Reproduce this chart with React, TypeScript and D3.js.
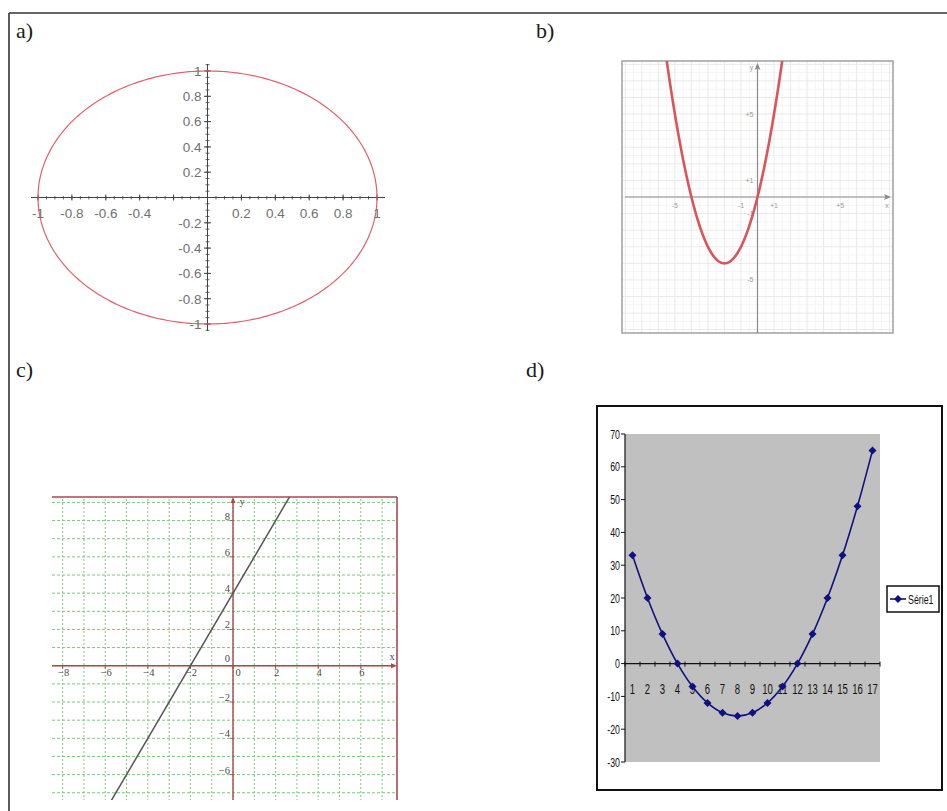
import React from "react";
import * as d3 from "d3";

// ---------- Panel a: unit ellipse ----------
const ellipseRadii = [1, 1];
const aXTickValues = [-1, -0.8, -0.6, -0.4, 0.2, 0.4, 0.6, 0.8, 1];
const aXTickText = ["-1", "-0.8", "-0.6", "-0.4", "0.2", "0.4", "0.6", "0.8", "1"];
const aYTickValues = [1, 0.8, 0.6, 0.4, 0.2, -0.2, -0.4, -0.6, -0.8, -1];
const aYTickText = ["1", "0.8", "0.6", "0.4", "0.2", "-0.2", "-0.4", "-0.6", "-0.8", "-1"];

// ---------- Panel b: parabola y = x^2 + 4x ----------
const parabolaCoeffs = [1, 4, 0];
const bXTickValues = [-5, -1, 1, 5];
const bXTickText = ["-5", "-1", "+1", "+5"];
const bYTickValues = [5, 1, -1, -5];
const bYTickText = ["+5", "+1", "-1", "-5"];

// ---------- Panel c: straight line y = 2x + 4 ----------
const lineCoeffs = [2, 4];
const cXTickValues = [-8, -6, -4, -2, 0, 2, 4, 6];
const cYTickValues = [-6, -4, -2, 0, 2, 4, 6, 8];

// ---------- Panel d: spreadsheet series ----------
const dCategories = ["1", "2", "3", "4", "5", "6", "7", "8", "9", "10", "11", "12", "13", "14", "15", "16", "17"];
const dValues = [33, 20, 9, 0, -7, -12, -15, -16, -15, -12, -7, 0, 9, 20, 33, 48, 65];
const dYTicks = [70, 60, 50, 40, 30, 20, 10, 0, -10, -20, -30];
const dSeriesName = "Série1";

const serif = "'Liberation Serif', 'DejaVu Serif', serif";
const sans = "'Liberation Sans', Arial, sans-serif";

// Condensed text: horizontally squeezed sans label
function NarrowText(props: { x: number; y: number; anchor: string; size: number; children: React.ReactNode }) {
  return (
    <g transform={`translate(${props.x},${props.y}) scale(0.68,1)`}>
      <text x={0} y={0} dy="0.35em" textAnchor={props.anchor as any} fontFamily={sans} fontSize={props.size} fill="#111">
        {props.children}
      </text>
    </g>
  );
}

function PanelA() {
  const x = d3.scaleLinear().domain([-1, 1]).range([38, 377]);
  const y = d3.scaleLinear().domain([-1, 1]).range([324, 71]);
  const [rx, ry] = ellipseRadii;
  const pts: [number, number][] = d3
    .range(0, 2 * Math.PI + 0.001, Math.PI / 180)
    .map((t) => [rx * Math.cos(t), ry * Math.sin(t)]);
  const path = d3
    .line<[number, number]>()
    .x((d) => x(d[0]))
    .y((d) => y(d[1]))(pts);
  const minor = d3.range(-1.1, 1.101, 0.05).map((v) => Math.round(v * 100) / 100);
  const major = d3.range(-1, 1.001, 0.2).map((v) => Math.round(v * 10) / 10);
  const x0 = x(0);
  const y0 = y(0);
  const axisColor = "#444";
  return (
    <g>
      <line x1={31} x2={385} y1={y0} y2={y0} stroke={axisColor} strokeWidth={1} />
      <line x1={x0} x2={x0} y1={64} y2={331} stroke={axisColor} strokeWidth={1} />
      {minor
        .filter((v) => x(v) >= 31 && x(v) <= 385)
        .map((v, i) => (
          <line key={"xm" + i} x1={x(v)} x2={x(v)} y1={y0 - 1.5} y2={y0 + 2} stroke={axisColor} strokeWidth={0.8} />
        ))}
      {minor
        .filter((v) => y(v) >= 64 && y(v) <= 331)
        .map((v, i) => (
          <line key={"ym" + i} x1={x0 - 2} x2={x0 + 2} y1={y(v)} y2={y(v)} stroke={axisColor} strokeWidth={0.8} />
        ))}
      {major.map((v, i) => (
        <g key={"mj" + i}>
          <line x1={x(v)} x2={x(v)} y1={y0 - 3} y2={y0 + 3} stroke={axisColor} strokeWidth={1} />
          <line x1={x0 - 3.5} x2={x0 + 3.5} y1={y(v)} y2={y(v)} stroke={axisColor} strokeWidth={1} />
        </g>
      ))}
      <path d={path || ""} fill="none" stroke="#e0606a" strokeWidth={1.2} />
      {aXTickValues.map((v, i) => (
        <text key={"xl" + i} x={x(v)} y={218} textAnchor="middle" fontFamily={sans} fontSize={13.5} fill="#707070">
          {aXTickText[i]}
        </text>
      ))}
      {aYTickValues.map((v, i) => (
        <text key={"yl" + i} x={x0 - 6} y={y(v)} dy="0.36em" textAnchor="end" fontFamily={sans} fontSize={13.5} fill="#707070">
          {aYTickText[i]}
        </text>
      ))}
    </g>
  );
}

function PanelB() {
  const left = 622, right = 893, top = 61, bottom = 333;
  const x = d3.scaleLinear().domain([-8.2, 8.2]).range([left, right]);
  const y = d3.scaleLinear().domain([-8.2, 8.2]).range([bottom, top]);
  const [a, b, c] = parabolaCoeffs;
  const pts: [number, number][] = d3.range(-8.2, 8.201, 0.02).map((t) => [t, a * t * t + b * t + c]);
  const path = d3
    .line<[number, number]>()
    .x((d) => x(d[0]))
    .y((d) => y(d[1]))(pts);
  const halfLines = d3.range(-7.5, 8.01, 1);
  const unitLines = d3.range(-8, 8.01, 1);
  const x0 = x(0), y0 = y(0);
  return (
    <g>
      <defs>
        <clipPath id="clipB">
          <rect x={left} y={top} width={right - left} height={bottom - top} />
        </clipPath>
      </defs>
      <rect x={left} y={top} width={right - left} height={bottom - top} fill="#fff" />
      {halfLines.map((v, i) => (
        <g key={"h" + i}>
          <line x1={x(v)} x2={x(v)} y1={top} y2={bottom} stroke="#f5f5f5" strokeWidth={1} />
          <line x1={left} x2={right} y1={y(v)} y2={y(v)} stroke="#f5f5f5" strokeWidth={1} />
        </g>
      ))}
      {unitLines.map((v, i) => (
        <g key={"u" + i}>
          <line x1={x(v)} x2={x(v)} y1={top} y2={bottom} stroke="#e9e9e9" strokeWidth={1} />
          <line x1={left} x2={right} y1={y(v)} y2={y(v)} stroke="#e9e9e9" strokeWidth={1} />
        </g>
      ))}
      <rect x={left} y={top} width={right - left} height={bottom - top} fill="none" stroke="#a0a0a0" strokeWidth={1.5} />
      <line x1={left + 3} x2={right - 4} y1={y0} y2={y0} stroke="#8a8a8a" strokeWidth={1.2} />
      <path d={`M${right - 2},${y0} l-7,-3 l1.5,3 l-1.5,3 Z`} fill="#8a8a8a" />
      <line x1={x0} x2={x0} y1={top + 4} y2={bottom} stroke="#8a8a8a" strokeWidth={1.2} />
      <path d={`M${x0},${top + 2} l-3,7 l3,-1.5 l3,1.5 Z`} fill="#8a8a8a" />
      {bXTickValues.map((v, i) => (
        <text key={"bx" + i} x={x(v)} y={y0 + 11} textAnchor="middle" fontFamily={sans} fontSize={7} fill="#9a9a9a">
          {bXTickText[i]}
        </text>
      ))}
      {bYTickValues.map((v, i) => (
        <text key={"by" + i} x={x0 - 4} y={y(v)} dy="0.35em" textAnchor="end" fontFamily={sans} fontSize={7} fill="#9a9a9a">
          {bYTickText[i]}
        </text>
      ))}
      <text x={right - 6} y={y0 + 11} textAnchor="middle" fontFamily={sans} fontSize={7} fill="#9a9a9a">x</text>
      <text x={x0 - 6} y={top + 9} textAnchor="middle" fontFamily={sans} fontSize={7} fill="#9a9a9a">y</text>
      <path d={path || ""} fill="none" stroke="#d9555c" strokeWidth={2.6} clipPath="url(#clipB)" />
    </g>
  );
}

function PanelC() {
  const left = 52, right = 397, top = 497, bottom = 800;
  const x = d3.scaleLinear().domain([-8.5, 7.7]).range([left, right]);
  const y = d3.scaleLinear().domain([-7.4, 9.3]).range([bottom, top]);
  const [m, k] = lineCoeffs;
  const xs = [-8.5, 7.7];
  const pts: [number, number][] = xs.map((t) => [t, m * t + k]);
  const path = d3
    .line<[number, number]>()
    .x((d) => x(d[0]))
    .y((d) => y(d[1]))(pts);
  const gridX = d3.range(-8, 7.01, 1);
  const gridY = d3.range(-7, 9.01, 1);
  const x0 = x(0), y0 = y(0);
  const axis = "#a8484e";
  const gridColor = "#80c480";
  return (
    <g>
      <defs>
        <clipPath id="clipC">
          <rect x={left} y={top} width={right - left} height={bottom - top} />
        </clipPath>
      </defs>
      {gridX.map((v, i) => (
        <line key={"gx" + i} x1={x(v)} x2={x(v)} y1={top + 2} y2={bottom} stroke={gridColor} strokeWidth={1} strokeDasharray="2,2" />
      ))}
      {gridY.map((v, i) => (
        <line key={"gy" + i} x1={left} x2={right} y1={y(v)} y2={y(v)} stroke={gridColor} strokeWidth={1} strokeDasharray="3,2" />
      ))}
      <line x1={left} x2={right} y1={top} y2={top} stroke={axis} strokeWidth={1.6} />
      <line x1={right} x2={right} y1={top} y2={bottom} stroke={axis} strokeWidth={1.6} />
      <line x1={left} x2={right - 2} y1={y0} y2={y0} stroke={axis} strokeWidth={1.4} />
      <path d={`M${right},${y0} l-6,-2.5 l0,5 Z`} fill={axis} />
      <line x1={x0} x2={x0} y1={top + 2} y2={bottom} stroke={axis} strokeWidth={1.4} />
      <path d={`M${x0},${top} l-2.5,6 l5,0 Z`} fill={axis} />
      {cXTickValues.map((v, i) => (
        <g key={"cx" + i}>
          <line x1={x(v)} x2={x(v)} y1={y0} y2={y0 + 3} stroke={axis} strokeWidth={1} />
          <text x={x(v) + (v === 0 ? 5 : 1)} y={y0 + 10} textAnchor="middle" fontFamily={serif} fontSize={10.5} fill="#4a4a4a">
            {v < 0 ? "\u2212" + Math.abs(v) : String(v)}
          </text>
        </g>
      ))}
      {cYTickValues.map((v, i) => (
        <g key={"cy" + i}>
          <line x1={x0 - 3} x2={x0} y1={y(v)} y2={y(v)} stroke={axis} strokeWidth={1} />
          <text x={x0 - 3} y={y(v) - (v === 0 ? 4 : 1)} textAnchor="end" fontFamily={serif} fontSize={10.5} fill="#4a4a4a">
            {v < 0 ? "\u2212" + Math.abs(v) : String(v)}
          </text>
        </g>
      ))}
      <text x={392} y={y0 - 6} textAnchor="middle" fontFamily={serif} fontSize={10.5} fill="#4a4a4a">x</text>
      <text x={x0 + 9} y={top + 8} textAnchor="middle" fontFamily={serif} fontSize={10.5} fill="#4a4a4a">y</text>
      <path d={path || ""} fill="none" stroke="#555" strokeWidth={1.5} clipPath="url(#clipC)" />
    </g>
  );
}

function PanelD() {
  const left = 625, right = 880, top = 434, bottom = 762;
  const x = d3.scaleBand<string>().domain(dCategories).range([left, right]);
  const y = d3.scaleLinear().domain([-30, 70]).range([bottom, top]);
  const cx = (c: string) => (x(c) || 0) + x.bandwidth() / 2;
  const navy = "#101080";
  const line = d3
    .line<number>()
    .x((_, i) => cx(dCategories[i]))
    .y((d) => y(d))
    .curve(d3.curveCatmullRom.alpha(0.5));
  const diamond = "M0,-4L4,0L0,4L-4,0Z";
  const y0 = y(0);
  return (
    <g>
      <rect x={597} y={406} width={345} height={384} fill="#fff" stroke="#111" strokeWidth={2} />
      <rect x={left} y={top} width={right - left} height={bottom - top} fill="#c0c0c0" />
      <line x1={left} x2={left} y1={top} y2={bottom} stroke="#111" strokeWidth={1.2} />
      {dYTicks.map((v, i) => (
        <g key={"dy" + i}>
          <line x1={left - 4} x2={left} y1={y(v)} y2={y(v)} stroke="#111" strokeWidth={1} />
          <NarrowText x={left - 5} y={y(v)} anchor="end" size={13}>
            {v}
          </NarrowText>
        </g>
      ))}
      <line x1={left} x2={right} y1={y0} y2={y0} stroke="#111" strokeWidth={1.2} />
      {dCategories.map((c, i) => (
        <g key={"dx" + i}>
          <line x1={x(c) || 0} x2={x(c) || 0} y1={y0 - 2} y2={y0 + 3} stroke="#111" strokeWidth={1} />
          <NarrowText x={cx(c)} y={y0 + 25} anchor="middle" size={14}>
            {c}
          </NarrowText>
        </g>
      ))}
      <line x1={right} x2={right} y1={y0 - 2} y2={y0 + 3} stroke="#111" strokeWidth={1} />
      <path d={line(dValues) || ""} fill="none" stroke={navy} strokeWidth={1.6} />
      {dValues.map((v, i) => (
        <path key={"mk" + i} d={diamond} transform={`translate(${cx(dCategories[i])},${y(v)})`} fill={navy} />
      ))}
      <rect x={887} y={586} width={52} height={26} fill="#fff" stroke="#111" strokeWidth={1.5} />
      <line x1={890} x2={906} y1={599} y2={599} stroke={navy} strokeWidth={1.6} />
      <path d={diamond} transform="translate(898,599)" fill={navy} />
      <NarrowText x={908} y={599} anchor="start" size={13}>
        {dSeriesName}
      </NarrowText>
    </g>
  );
}

export default function App() {
  const labelStyle = { fontFamily: serif, fontSize: 22, fill: "#1a1a1a" };
  return (
    <div style={{ position: "absolute", left: 0, top: 0 }}>
      <svg width={947} height={811} viewBox="0 0 947 811" style={{ display: "block", background: "#fff" }}>
        <rect x={0} y={0} width={947} height={811} fill="#fff" />
        <line x1={9} x2={947} y1={13} y2={13} stroke="#333" strokeWidth={1.6} />
        <line x1={9} x2={9} y1={13} y2={811} stroke="#333" strokeWidth={1.6} />
        <text x={16} y={38} {...labelStyle}>a)</text>
        <text x={536} y={38} {...labelStyle}>b)</text>
        <text x={16} y={377} {...labelStyle}>c)</text>
        <text x={526} y={377} {...labelStyle}>d)</text>
        <PanelA />
        <PanelB />
        <PanelC />
        <PanelD />
      </svg>
    </div>
  );
}
